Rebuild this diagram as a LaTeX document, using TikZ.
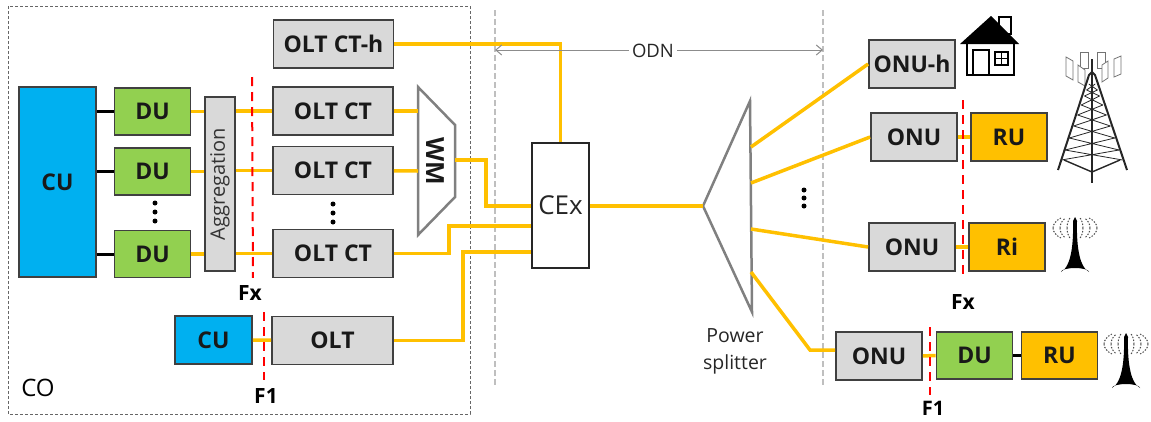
\documentclass[tikz,border=0pt]{standalone}
\usepackage{xcolor}
\usepackage{fontspec}
\setmainfont{Open Sans}
\usetikzlibrary{arrows.meta}
\definecolor{boxgray}{HTML}{D9D9D9}
\definecolor{fiber}{HTML}{FFC000}
\definecolor{duGreen}{HTML}{92D050}
\definecolor{cuBlue}{HTML}{00B0F0}
\definecolor{edge}{HTML}{404040}
\tikzset{
  unit/.style={draw=edge, line width=1.8pt, inner sep=0pt, font=\fontsize{23}{27}\selectfont\bfseries, text=black!90},
  olt/.style={unit, fill=boxgray, minimum width=120pt, minimum height=48pt},
  onu/.style={unit, fill=boxgray, minimum width=86pt, minimum height=48pt},
  du/.style={unit, fill=duGreen, minimum width=76pt, minimum height=47pt},
  ru/.style={unit, fill=fiber, minimum width=76pt, minimum height=48pt},
  fiberline/.style={draw=fiber, line width=3.5pt},
  blackline/.style={draw=black, line width=3pt},
  cut/.style={draw=red, line width=2pt, dash pattern=on 9pt off 6pt},
  odnline/.style={draw=black!25, line width=2pt, dash pattern=on 6pt off 3pt},
  cutlabel/.style={fill=white, font=\fontsize{21}{25}\selectfont\bfseries, inner sep=1pt},
  wave/.style={draw=black!70, line width=1pt, dash pattern=on 1.5pt off 1.5pt},
  antenna/.pic={
    \fill[black] (-2,-10) -- (0,-14) -- (2,-10) .. controls (1.5,10) and (3,35) .. (14,41) arc (0:-180:14 and 4) .. controls (-3,35) and (-1.5,10) .. (-2,-10) -- cycle;
    \foreach \r in {8,15,22}{
      \draw[wave] (\r,-3) arc (0:50:\r pt and 13pt);
      \draw[wave] (\r,-3) arc (0:-50:\r pt and 13pt);
      \draw[wave] (-\r,-3) arc (180:130:\r pt and 13pt);
      \draw[wave] (-\r,-3) arc (180:230:\r pt and 13pt);
    }
  }
}
\begin{document}
\begin{tikzpicture}[x=1pt,y=-1pt]
\useasboundingbox (0,0) rectangle (1151,421);
\draw[black!60, line width=1pt, dash pattern=on 3pt off 2pt] (8,6) rectangle (470,414);
\draw[odnline] (495,10) -- (495,385);
\draw[odnline] (823,10) -- (823,385);
\node[font=\fontsize{24}{28}\selectfont] (co) at (38,388) {CO};

% central office
\node[unit, fill=cuBlue, minimum width=77pt, minimum height=190pt] (cu) at (57.5,182) {CU};
\foreach \n/\y in {1/111.5, 2/171.5, 3/254}
    \node[du] (du\n) at (152.5,\y) {DU};
\node[unit, fill=boxgray, minimum width=30pt, minimum height=174pt] (agg) at (220,184) {};
\node[rotate=90, font=\fontsize{20}{24}\selectfont, text=black!80] at (agg) {Aggregation};
\node[olt] (ct0) at (333.5,44) {OLT CT-h};
\foreach \n/\y in {1/111, 2/170.5, 3/253.5}
    \node[olt] (ct\n) at (333,\y) {OLT CT};
\node[unit, fill=cuBlue, minimum width=77pt, minimum height=48pt] (cu2) at (213.5,340) {CU};
\node[olt, minimum width=121pt] (olt) at (332.5,340.5) {OLT};

% WM and CEx
\draw[line width=2.5pt, draw=black!50] (418,87) coordinate (wma) -- (455,125) -- (455,197) -- (418,235) coordinate (wmb) -- cycle;
\node[rotate=-90, font=\fontsize{25}{29}\selectfont\bfseries, text=black!90] (wm) at (435,161) {WM};
\coordinate (wm1) at (418,111);
\coordinate (wm2) at (418,171);
\coordinate (wmout) at (455,160);
\node[draw=black!85, fill=white, line width=2pt, minimum width=57pt, minimum height=125pt, inner sep=0pt, font=\fontsize{26}{30}\selectfont, text=black!85] (cex) at (560.5,205.5) {CEx};

% splitter
\draw[line width=2.5pt, draw=black!50] (703,206) coordinate (spl) -- (750,101) -- (752,312) -- cycle;
\coordinate (spl1) at (751,147);
\coordinate (spl2) at (751,183);
\coordinate (spl3) at (751,229);
\coordinate (spl4) at (751,272);
\node[align=center, font=\fontsize{19.5}{27}\selectfont, text=black!85] (powersplit) at (735,351) {Power\\splitter};

% user side
\node[onu] (onuh) at (912,64) {ONU-h};
\node[onu] (onu1) at (914,137) {ONU};
\node[ru] (ru1) at (1009,137) {RU};
\node[onu] (onu2) at (912,247) {ONU};
\node[ru] (ri) at (1007,247) {Ri};
\node[onu] (onu3) at (879,356) {ONU};
\node[du] (du4) at (974.5,355.5) {DU};
\node[ru, minimum height=47pt] (ru2) at (1059.5,355.5) {RU};

% connectors
\foreach \n in {1,2,3} {
    \draw[blackline] (cu.east |- du\n) -- (du\n);
    \draw[fiberline] (du\n) -- (agg.west |- du\n);
    \draw[fiberline] (agg.east |- ct\n) -- (ct\n);
}
\draw[fiberline] (ct1) -- (wm1);
\draw[fiberline] (ct2) -- (wm2);
\draw[fiberline] (wmout) -- (486,160) -- (486,206) -- (cex.west |- 0,206);
\draw[fiberline] (ct3) -- (449,253.5) -- (449,226) -- (cex.west |- 0,226);
\draw[fiberline] (olt) -- (463,340.5) -- (463,252) -- (cex.west |- 0,252);
\draw[fiberline] (ct0) -- (560.5,44) -- (cex.north);
\draw[fiberline] (cex.east |- spl) -- (spl);
\draw[fiberline] (cu2) -- (olt);
\draw[fiberline] (spl1) -- (onuh.west);
\draw[fiberline] (spl2) -- (onu1.west);
\draw[fiberline] (spl3) -- (onu2.west);
\draw[fiberline] (spl4) -- (810,350) -- (onu3.west |- 0,350);
\draw[fiberline] (onu1) -- (ru1);
\draw[fiberline] (onu2) -- (ri);
\draw[fiberline] (onu3) -- (du4);
\draw[blackline] (du4) -- (ru2);

% ODN span
\draw[black!45, line width=1pt, {Straight Barb[length=6pt,width=10pt]}-{Straight Barb[length=6pt,width=10pt]}] (495,50) -- (823,50);
\node[fill=white, font=\fontsize{18.5}{22}\selectfont, text=black!85, inner sep=3pt] (odn) at (653,51) {ODN};

% split points
\draw[cut] (252,77) -- (253,280);
\draw[cut] (264,312) -- (264,380);
\draw[cut] (963,100) -- (963,277);
\draw[cut] (930,327) -- (930,395);
\node[cutlabel, minimum width=68pt, minimum height=30pt] (fx1) at (250,293) {Fx};
\node[cutlabel] (f11) at (266,396) {F1};
\node[cutlabel] (fx2) at (963,302) {Fx};
\node[cutlabel, font=\fontsize{20}{22}\selectfont\bfseries] (f12) at (933,408) {F1};

% dots
\foreach \x/\y in {155/203, 155/212, 155/221, 333/204, 333/213, 333/222, 804/190, 804/198, 804/206}
    \fill (\x,\y) circle (2.5pt);

% house
\draw[line width=1.5pt, fill=white] (999,17) rectangle (1011,34);
\fill (991,16) -- (1019,44) -- (960,44) -- cycle;
\draw[line width=1.5pt] (967,44) -- (967,75) -- (1014,75) -- (1014,44);
\draw[line width=1.5pt] (973,75) -- (973,50) -- (989,50) -- (989,75);
\draw[line width=1.2pt] (995,52) rectangle (1008,65) (1001.5,52) -- (1001.5,65) (995,58.5) -- (1008,58.5);

% tower
\foreach \a/\b/\c/\d/\e/\f/\g/\h in {1066/57/1073/61/1073/80/1066/76, 1080/52/1088/52/1088/68/1080/68, 1097/52/1105/52/1105/68/1097/68, 1078/65/1085/70/1085/86/1078/82, 1102/65/1108/61/1108/78/1102/82, 1114/59/1121/56/1121/74/1114/77}
    \draw[black!55, line width=.8pt, fill=white] (\a,\b) -- (\c,\d) -- (\e,\f) -- (\g,\h) -- cycle;
\draw[black!85, line width=2pt] (1058,170) -- (1089,75) -- (1092,72) -- (1095,75) -- (1127,170);
\draw[black!85, line width=1.6pt] (1092,59) -- (1092,183);
\draw[black!85, line width=1.4pt] (1064,160) -- (1092,172) -- (1120,160);
\foreach \y/\yy in {84/90, 90/96, 96/105, 105/115, 115/126, 126/138, 138/150, 150/160} {
    \pgfmathsetmacro{\w}{(\y-75)*0.36}
    \pgfmathsetmacro{\ww}{(\yy-75)*0.36}
    \draw[black!85, line width=.8pt] (1092-\w,\y) -- (1092+\ww,\yy) (1092+\w,\y) -- (1092-\ww,\yy);
}

% antennas
\pic at (1075,231) {antenna};
\pic at (1126,347) {antenna};
\end{tikzpicture}
\end{document}
